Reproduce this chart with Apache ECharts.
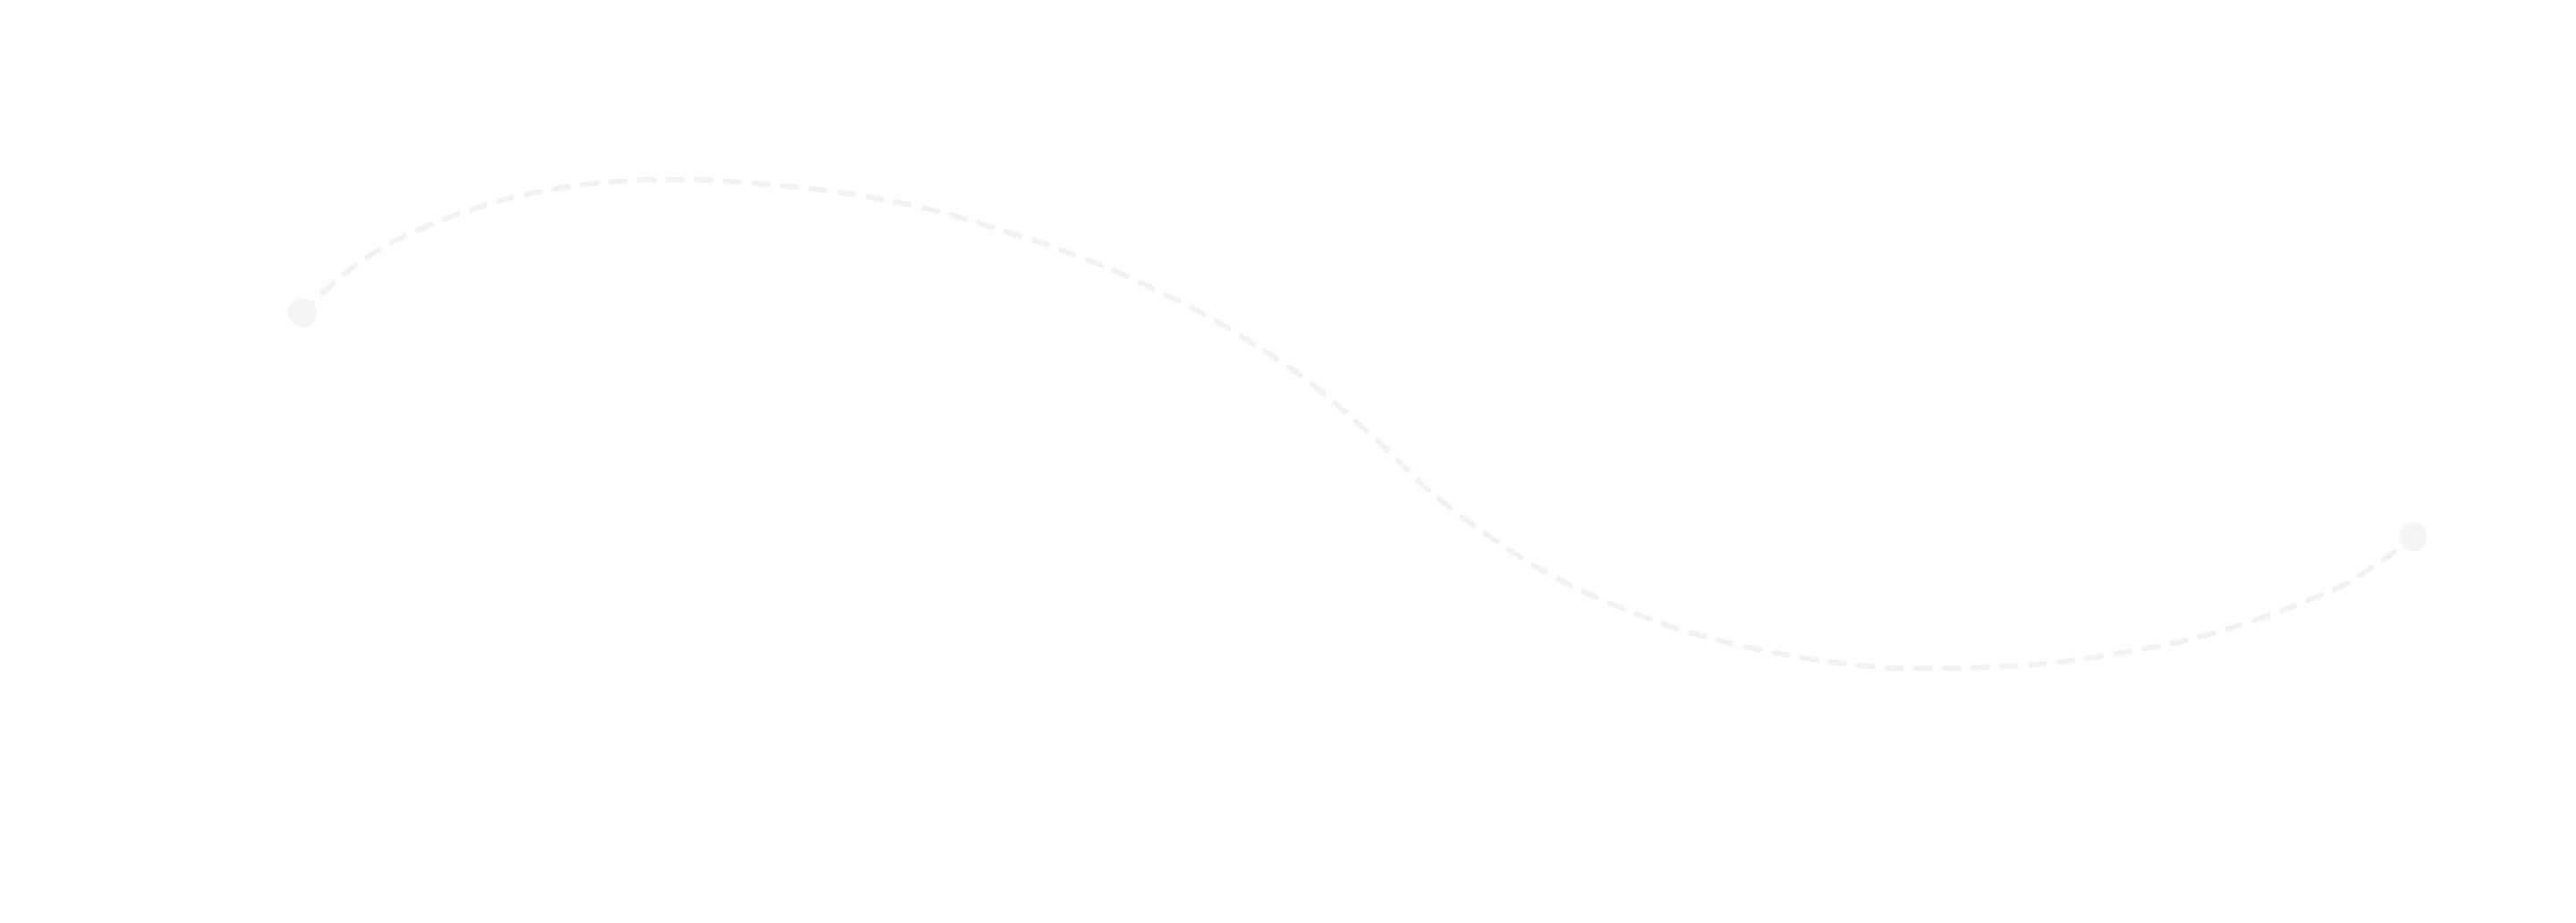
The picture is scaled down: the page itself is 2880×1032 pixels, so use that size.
<!DOCTYPE html>
<html>
<head>
    <meta charset="utf-8">
    <title>curve</title>
    <script src="https://cdn.jsdelivr.net/npm/echarts@6/dist/echarts.min.js"></script>
    <style>
        html, body { margin: 0; padding: 0; background: #ffffff; }
        #main { width: 2880px; height: 1032px; }
    </style>
</head>
<body>
<div id="main"></div>
<script>
    // points (x: 0..100 across, y: 0..100 bottom to top)
    var xValues = [0, 1.95, 4.15, 6.65, 9.15, 11.74, 14.41, 17.12, 19.79, 22.46, 25.13, 27.75, 30.38,
        32.97, 35.51, 38.01, 40.42, 42.84, 45.17, 47.37, 49.41, 51.4, 53.35, 55.47, 57.71, 60.04,
        62.5, 65.04, 67.63, 70.3, 72.97, 75.64, 78.35, 81.06, 83.73, 86.4, 89.03, 91.65, 94.19,
        96.69, 98.94, 100];
    var yValues = [72.7, 80.6, 87.0, 91.8, 95.4, 98.0, 99.5, 100, 99.8, 98.9, 97.6, 95.8, 93.2,
        89.9, 86.3, 82.2, 77.5, 72.2, 66.1, 59.7, 52.4, 44.7, 36.4, 29.3, 22.7, 17.0,
        12.3, 8.2, 5.1, 2.7, 0.9, 0, 0, 0.4, 1.5, 3.3, 5.5, 8.6, 12.5,
        17.0, 23.3, 26.9];

    var curveData = xValues.map(function (x, i) { return [x, yValues[i]]; });
    var endData = [curveData[0], curveData[curveData.length - 1]];

    var chart = echarts.init(document.getElementById('main'));
    var option = {
        animation: false,
        backgroundColor: '#ffffff',
        grid: { left: 338, right: 182, top: 201, bottom: 285 },
        xAxis: { type: 'value', min: 0, max: 100, show: false },
        yAxis: { type: 'value', min: 0, max: 100, show: false },
        series: [
            {
                type: 'line',
                data: curveData,
                smooth: 0.3,
                showSymbol: false,
                lineStyle: {
                    color: '#f2f2f2',
                    width: 6,
                    type: [16, 16],
                    cap: 'round'
                },
                z: 2
            },
            {
                type: 'scatter',
                data: endData,
                symbol: 'circle',
                symbolSize: 32,
                itemStyle: { color: '#f2f2f5' },
                z: 3
            }
        ]
    };
    chart.setOption(option);
</script>
</body>
</html>
